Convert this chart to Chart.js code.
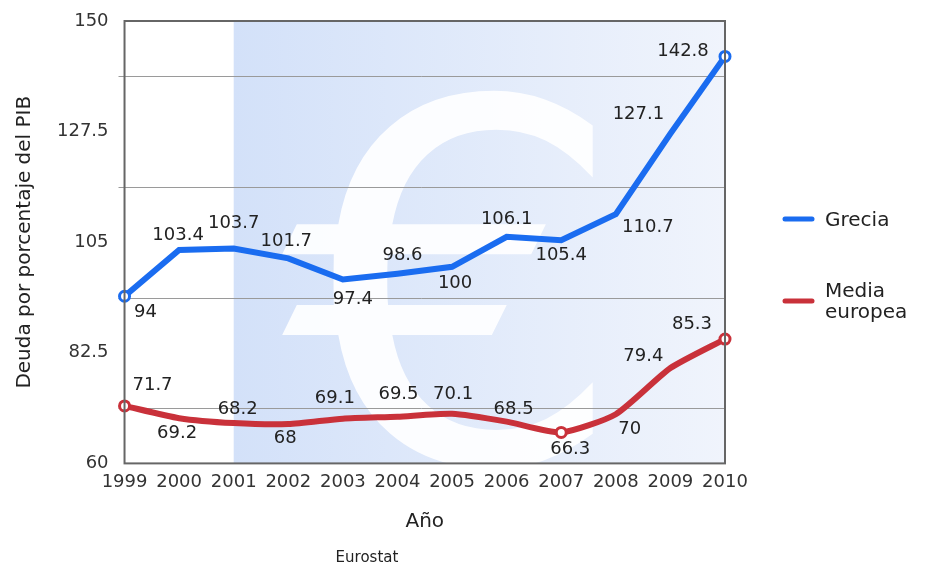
<!DOCTYPE html>
<html>
<head>
<meta charset="utf-8">
<script src="https://cdn.jsdelivr.net/npm/chart.js@4"></script>
<style>
  body { margin: 0; background: #fff; }
  #chart { width: 928px; height: 567px; }
</style>
</head>
<body>
<div id="chart"><canvas id="miCanva"></canvas></div>
<script>
const years = ["1999", "2000", "2001", "2002", "2003", "2004", "2005", "2006", "2007", "2008", "2009", "2010"];
const grecia = [94, 103.4, 103.7, 101.7, 97.4, 98.6, 100, 106.1, 105.4, 110.7, 127.1, 142.8];
const mediaEuropea = [71.7, 69.2, 68.2, 68, 69.1, 69.5, 70.1, 68.5, 66.3, 70, 79.4, 85.3];
const seriesNames = ["Grecia", "Media europea"];
const yTicks = [60, 82.5, 105, 127.5, 150];
const yGridLines = [71.25, 93.75, 116.25, 138.75];
const euroStart = "2001";

// where each value label sits relative to its point (dx, dy)
const labelOffsets = [
  [[21, 16], [-1, -15], [0, -25], [-2, -17], [10, 20], [5, -18], [3, 17], [0, -17], [0, 15], [32, 13], [-32, -19], [-42, -5]],
  [[28, -21], [-2, 15], [4, -14], [-3, 14], [-8, -20], [1, -22], [1, -19], [7, -12], [9, 17], [14, 15], [-27, -12], [-33, -15]],
];

const FONT = "'DejaVu Sans', Verdana, sans-serif";

const marked = (data) => {
  const min = Math.min(...data);
  return [0, data.indexOf(min), data.length - 1];
};

const fondo = {
  id: "fondo",
  beforeDatasetsDraw(chart) {
    const { ctx, chartArea: a, scales } = chart;
    const x0 = scales.x.getPixelForValue(years.indexOf(euroStart));
    ctx.save();
    ctx.beginPath();
    ctx.rect(a.left, a.top, a.right - a.left, a.bottom - a.top);
    ctx.clip();
    const g = ctx.createLinearGradient(x0, 0, a.right, 0);
    g.addColorStop(0, "#d3e1f9");
    g.addColorStop(1, "#f0f4fc");
    ctx.fillStyle = g;
    ctx.fillRect(x0, a.top, a.right - x0, a.bottom - a.top);
    // big euro sign behind the lines
    ctx.translate(a.left + 331, a.top + 311);
    ctx.scale(1.09, 1);
    ctx.fillStyle = "rgba(255,255,255,0.9)";
    ctx.font = "500px " + FONT;
    ctx.textAlign = "center";
    ctx.textBaseline = "middle";
    ctx.fillText("\u20ac", 0, 0);
    ctx.restore();
    // grid lines sit between the labelled ticks
    ctx.save();
    ctx.strokeStyle = "#9a9a9a";
    ctx.lineWidth = 1;
    yGridLines.forEach((v) => {
      const y = Math.round(scales.y.getPixelForValue(v)) + 0.5;
      ctx.beginPath();
      ctx.moveTo(a.left - 6, y);
      ctx.lineTo(a.right, y);
      ctx.stroke();
    });
    ctx.restore();
  },
  afterDraw(chart) {
    const { ctx, chartArea: a } = chart;
    ctx.save();
    ctx.strokeStyle = "#666";
    ctx.lineWidth = 2;
    ctx.strokeRect(a.left, a.top, a.right - a.left, a.bottom - a.top);

    // value labels
    ctx.font = "18px " + FONT;
    ctx.fillStyle = "#222";
    ctx.textAlign = "center";
    ctx.textBaseline = "middle";
    chart.data.datasets.forEach((ds, i) => {
      chart.getDatasetMeta(i).data.forEach((pt, j) => {
        const [dx, dy] = labelOffsets[i][j];
        ctx.fillText(String(ds.data[j]), pt.x + dx, pt.y + dy);
      });
    });

    // legend
    const lx = a.right + 60;
    const legendY = [[a.top + 200], [a.top + 271, a.top + 292]];
    const lineY = [a.top + 198, a.top + 280];
    ctx.textAlign = "left";
    ctx.font = "20px " + FONT;
    ctx.lineCap = "round";
    chart.data.datasets.forEach((ds, i) => {
      ctx.strokeStyle = ds.borderColor;
      ctx.lineWidth = 5;
      ctx.beginPath();
      ctx.moveTo(lx, lineY[i]);
      ctx.lineTo(lx + 27, lineY[i]);
      ctx.stroke();
      const words = i === 1 ? ["Media", "europea"] : [ds.label];
      words.forEach((w, k) => ctx.fillText(w, lx + 40, legendY[i][k]));
    });
    ctx.restore();
  },
};

const makeSet = (label, data, color, tension) => {
  const idx = marked(data);
  return {
    label,
    data,
    borderColor: color,
    backgroundColor: "#fff",
    borderWidth: 6,
    tension,
    pointRadius: (c) => (idx.includes(c.dataIndex) ? 5 : 0),
    pointBorderWidth: 3,
    pointBorderColor: color,
    pointBackgroundColor: "#fff",
    clip: false,
  };
};

new Chart(document.getElementById("miCanva"), {
  type: "line",
  data: {
    labels: years,
    datasets: [
      makeSet(seriesNames[0], grecia, "#1a6cf0", 0),
      makeSet(seriesNames[1], mediaEuropea, "#c9313a", 0.2),
    ],
  },
  plugins: [fondo],
  options: {
    responsive: true,
    maintainAspectRatio: false,
    animation: false,
    layout: { padding: { top: 21, right: 203, left: 9, bottom: 0 } },
    scales: {
      x: {
        offset: false,
        grid: { display: false },
        border: { display: false },
        ticks: { font: { size: 18, family: FONT }, color: "#333", maxRotation: 0, autoSkip: false, padding: 0 },
        title: { display: true, text: "Año", font: { size: 20, family: FONT }, color: "#222", padding: { top: 17, bottom: 8 } },
      },
      y: {
        min: 60,
        max: 150,
        afterBuildTicks: (axis) => {
          axis.ticks = yTicks.map((v) => ({ value: v }));
        },
        grid: { display: false },
        border: { display: false },
        ticks: { font: { size: 18, family: FONT }, color: "#333", padding: 8 },
        title: { display: true, text: "Deuda por porcentaje del PIB", font: { size: 20, family: FONT }, color: "#222", padding: { bottom: 12 } },
      },
    },
    plugins: {
      legend: { display: false },
      tooltip: { enabled: false },
      subtitle: {
        display: true,
        position: "bottom",
        text: "Eurostat",
        font: { size: 15, family: FONT },
        color: "#222",
        padding: { top: 7, bottom: 0 },
      },
    },
  },
});
</script>
</body>
</html>
